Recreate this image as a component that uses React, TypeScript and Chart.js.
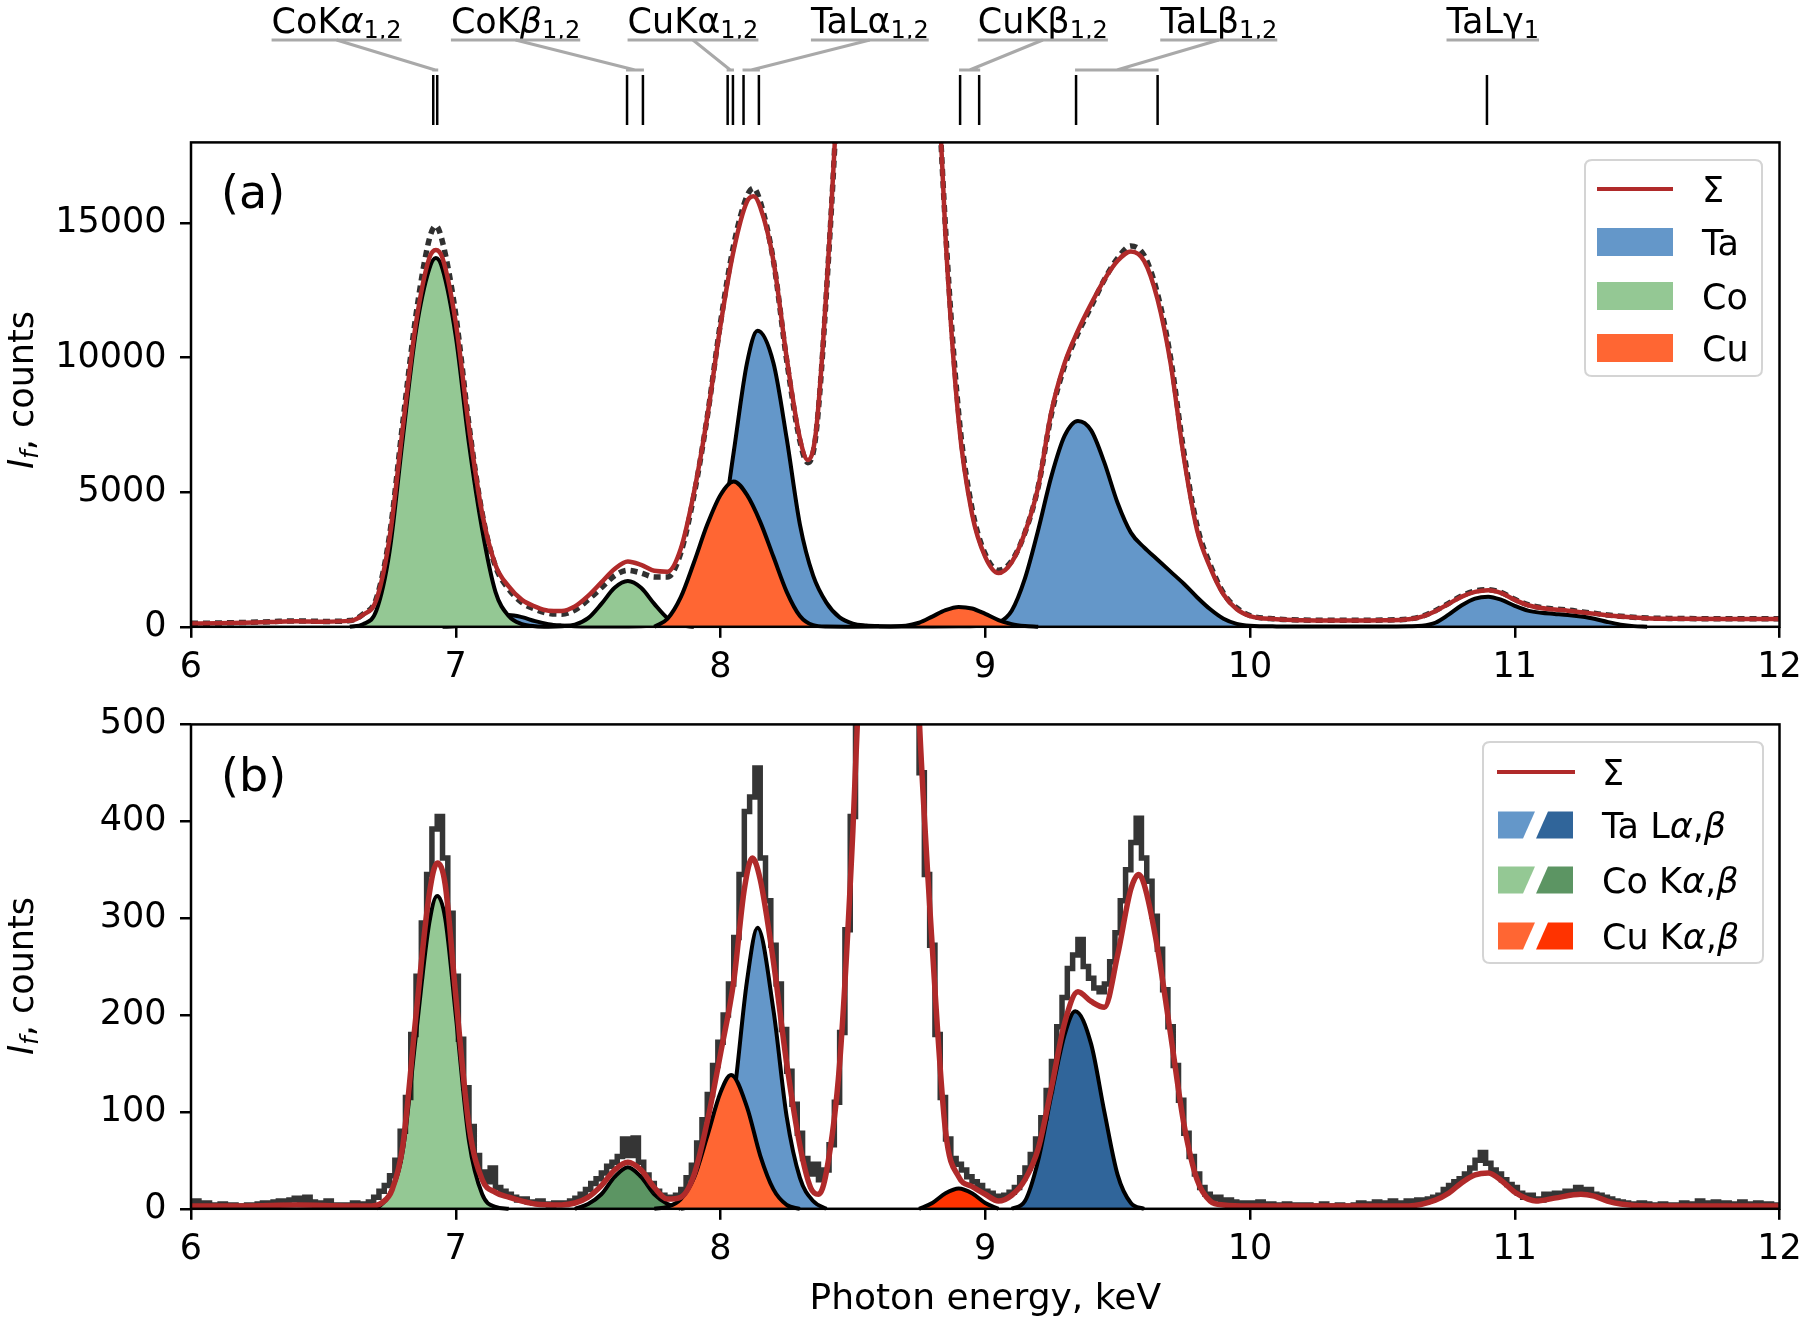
import React, { useEffect, useRef } from "react";
import { Chart, registerables } from "chart.js";

Chart.register(...registerables);

const FONT = '"DejaVu Sans", "Liberation Sans", sans-serif';
const FS = 35;

// ---------- axes ----------
const xTicks = [6, 7, 8, 9, 10, 11, 12];
const yTicksA = [0, 5000, 10000, 15000];
const yTicksB = [0, 100, 200, 300, 400, 500];
const xMin = 6;
const xMax = 12;
const yMaxA = 18000;
const yMaxB = 500;

// ---------- colours ----------
const SIGMA = "#b02a2a";
const TA_LIGHT = "#6497c9";
const TA_DARK = "#30659a";
const CO_LIGHT = "#94c894";
const CO_DARK = "#5c9563";
const CU_LIGHT = "#ff6633";
const CU_DARK = "#ff3300";

// ---------- top line markers ----------
type Part = { t: string; i?: boolean; s?: boolean };
const markerNames: Part[][] = [
  [{ t: "CoK" }, { t: "α", i: true }, { t: "1,2", s: true }],
  [{ t: "CoK" }, { t: "β", i: true }, { t: "1,2", s: true }],
  [{ t: "CuKα" }, { t: "1,2", s: true }],
  [{ t: "TaLα" }, { t: "1,2", s: true }],
  [{ t: "CuKβ" }, { t: "1,2", s: true }],
  [{ t: "TaLβ" }, { t: "1,2", s: true }],
  [{ t: "TaLγ" }, { t: "1", s: true }],
];
const markerLabelE = [6.55, 7.226, 7.896, 8.564, 9.2175, 9.882, 10.917];
const markerLinesE = [
  [6.915, 6.93],
  [7.647, 7.707],
  [8.027, 8.047],
  [8.087, 8.145],
  [8.905, 8.977],
  [9.343, 9.651],
  [10.895],
];

// ---------- panel (a) ----------
const sumA: [number, number][] = [
  [6.0, 120], [6.1, 130], [6.2, 150], [6.3, 180], [6.4, 210], [6.5, 190], [6.6, 220], [6.65, 450],
  [6.7, 1000], [6.75, 3300], [6.8, 7400], [6.85, 11300], [6.9, 13700], [6.925, 14000], [6.95, 13700],
  [7.0, 11300], [7.05, 7400], [7.1, 4200], [7.15, 2300], [7.2, 1500], [7.25, 1000], [7.3, 750],
  [7.35, 600], [7.4, 590], [7.45, 760], [7.5, 1150], [7.55, 1650], [7.6, 2150], [7.65, 2430],
  [7.7, 2300], [7.75, 2080], [7.8, 2050], [7.85, 2900], [7.9, 5000], [7.95, 7800], [8.0, 11200],
  [8.05, 14000], [8.1, 15800], [8.125, 16000], [8.15, 15600], [8.2, 13600], [8.25, 10000],
  [8.3, 7000], [8.33, 6200], [8.36, 7200], [8.4, 12500], [8.45, 22000], [8.5, 38000], [8.55, 52000],
  [8.6, 60000], [8.65, 60000], [8.7, 52000], [8.75, 38000], [8.8, 25000], [8.85, 14500], [8.9, 7600],
  [8.95, 4200], [9.0, 2600], [9.05, 2000], [9.1, 2400], [9.15, 3500], [9.2, 5200], [9.25, 8000],
  [9.3, 9800], [9.35, 11000], [9.4, 12000], [9.45, 12900], [9.5, 13600], [9.55, 13950], [9.6, 13600],
  [9.65, 12200], [9.7, 9800], [9.75, 6300], [9.8, 3600], [9.85, 2200], [9.9, 1200], [9.95, 650],
  [10.0, 400], [10.1, 280], [10.2, 240], [10.3, 230], [10.4, 230], [10.5, 240], [10.6, 280],
  [10.65, 380], [10.7, 580], [10.75, 850], [10.8, 1120], [10.85, 1300], [10.9, 1360], [10.95, 1250],
  [11.0, 1000], [11.05, 800], [11.1, 700], [11.15, 640], [11.2, 600], [11.25, 540], [11.3, 490],
  [11.35, 430], [11.4, 380], [11.5, 320], [11.6, 300], [11.8, 290], [12.0, 290],
];

const dataA: [number, number][] = [
  [6.0, 130], [6.1, 140], [6.2, 160], [6.3, 190], [6.4, 220], [6.5, 200], [6.6, 230], [6.65, 470],
  [6.7, 1050], [6.75, 3400], [6.8, 7600], [6.85, 11600], [6.9, 14400], [6.925, 14900], [6.95, 14300],
  [7.0, 11600], [7.05, 7500], [7.1, 4200], [7.15, 2250], [7.2, 1400], [7.25, 900], [7.3, 650],
  [7.35, 500], [7.4, 470], [7.45, 620], [7.5, 1000], [7.55, 1450], [7.6, 1900], [7.65, 2100],
  [7.7, 2000], [7.75, 1850], [7.8, 1850], [7.85, 2750], [7.9, 4900], [7.95, 7800], [8.0, 11300],
  [8.05, 14200], [8.1, 16000], [8.125, 16300], [8.15, 15800], [8.2, 13600], [8.25, 9900],
  [8.3, 6900], [8.33, 6100], [8.36, 7100], [8.4, 12400], [8.45, 22000], [8.5, 38000], [8.55, 52000],
  [8.6, 60000], [8.65, 60000], [8.7, 52000], [8.75, 38000], [8.8, 25200], [8.85, 14800], [8.9, 7900],
  [8.95, 4400], [9.0, 2700], [9.05, 2100], [9.1, 2450], [9.15, 3500], [9.2, 5200], [9.25, 7900],
  [9.3, 9700], [9.35, 10900], [9.4, 11900], [9.45, 12900], [9.5, 13700], [9.55, 14150], [9.6, 13800],
  [9.65, 12400], [9.7, 10000], [9.75, 6500], [9.8, 3750], [9.85, 2300], [9.9, 1250], [9.95, 700],
  [10.0, 420], [10.1, 290], [10.2, 250], [10.3, 240], [10.4, 240], [10.5, 250], [10.6, 290],
  [10.65, 390], [10.7, 600], [10.75, 870], [10.8, 1150], [10.85, 1330], [10.9, 1380], [10.95, 1270],
  [11.0, 1020], [11.05, 820], [11.1, 720], [11.15, 660], [11.2, 620], [11.25, 560], [11.3, 500],
  [11.35, 440], [11.4, 390], [11.5, 330], [11.6, 310], [11.8, 300], [12.0, 300],
];

const taA: [number, number][] = [
  [6.95, 0], [7.0, 20], [7.05, 60], [7.1, 180], [7.15, 360], [7.2, 440], [7.25, 360], [7.3, 210],
  [7.35, 100], [7.4, 50], [7.45, 25], [7.5, 15], [7.6, 15], [7.7, 25], [7.8, 60], [7.85, 120],
  [7.9, 400], [7.95, 1200], [8.0, 3200], [8.05, 6500], [8.1, 9800], [8.14, 11000], [8.2, 9800],
  [8.25, 7000], [8.3, 3800], [8.35, 1900], [8.4, 900], [8.45, 350], [8.5, 120], [8.55, 50],
  [8.6, 25], [8.7, 15], [8.8, 15], [8.9, 20], [9.0, 50], [9.05, 150], [9.1, 600], [9.15, 1800],
  [9.2, 3600], [9.25, 5600], [9.3, 7100], [9.35, 7650], [9.4, 7300], [9.45, 6100], [9.5, 4600],
  [9.55, 3500], [9.6, 2950], [9.65, 2500], [9.7, 2050], [9.75, 1600], [9.8, 1100], [9.85, 650],
  [9.9, 300], [9.95, 110], [10.0, 40], [10.1, 15], [10.3, 10], [10.5, 10], [10.6, 20], [10.65, 40],
  [10.7, 150], [10.75, 450], [10.8, 800], [10.85, 1050], [10.9, 1120], [10.95, 1000], [11.0, 780],
  [11.05, 600], [11.1, 520], [11.15, 480], [11.2, 440], [11.25, 380], [11.3, 300], [11.35, 180],
  [11.4, 80], [11.45, 25], [11.5, 5],
];

const coA: [number, number][] = [
  [6.6, 0], [6.65, 100], [6.7, 600], [6.75, 2800], [6.8, 7000], [6.85, 11000], [6.9, 13300],
  [6.925, 13700], [6.95, 13300], [7.0, 10800], [7.05, 6800], [7.1, 3600], [7.15, 1300], [7.2, 400],
  [7.25, 100], [7.3, 20], [7.35, 5], [7.4, 20], [7.45, 80], [7.5, 320], [7.55, 850], [7.6, 1450],
  [7.65, 1700], [7.7, 1450], [7.75, 850], [7.8, 320], [7.85, 60], [7.9, 0],
];

const cuA: [number, number][] = [
  [7.75, 0], [7.8, 300], [7.85, 1100], [7.9, 2400], [7.95, 3800], [8.0, 4900], [8.05, 5400],
  [8.1, 4900], [8.15, 3900], [8.2, 2600], [8.25, 1300], [8.3, 400], [8.35, 60], [8.4, 10], [8.5, 5],
  [8.6, 10], [8.7, 40], [8.75, 150], [8.8, 380], [8.85, 620], [8.9, 740], [8.95, 680], [9.0, 480],
  [9.05, 250], [9.1, 100], [9.15, 30], [9.2, 0],
];

// ---------- panel (b) ----------
const sumB: [number, number][] = [
  [6.0, 3], [6.2, 3], [6.4, 4], [6.6, 3], [6.68, 3], [6.72, 6], [6.76, 20], [6.8, 65], [6.85, 200],
  [6.9, 325], [6.93, 357], [6.96, 335], [7.0, 220], [7.05, 85], [7.1, 30], [7.15, 17], [7.2, 12],
  [7.25, 8], [7.3, 5], [7.4, 4], [7.45, 6], [7.5, 12], [7.55, 24], [7.6, 40], [7.65, 48], [7.7, 40],
  [7.75, 22], [7.8, 10], [7.85, 12], [7.9, 35], [7.95, 90], [8.0, 160], [8.05, 235], [8.09, 330],
  [8.12, 362], [8.15, 340], [8.2, 255], [8.25, 150], [8.3, 65], [8.34, 22], [8.37, 15], [8.4, 38],
  [8.45, 150], [8.5, 390], [8.55, 720], [8.6, 1000], [8.65, 1050], [8.7, 860], [8.75, 510],
  [8.8, 270], [8.85, 80], [8.9, 33], [8.95, 23], [9.0, 15], [9.05, 8], [9.1, 14], [9.15, 30],
  [9.2, 62], [9.25, 125], [9.3, 192], [9.35, 224], [9.4, 214], [9.45, 208], [9.5, 262], [9.55, 330],
  [9.58, 345], [9.6, 335], [9.65, 270], [9.7, 180], [9.75, 88], [9.8, 30], [9.85, 8], [9.9, 4],
  [10.0, 3], [10.6, 3], [10.7, 9], [10.75, 16], [10.8, 27], [10.85, 35], [10.9, 37], [10.95, 29],
  [11.0, 17], [11.05, 10], [11.08, 8], [11.15, 11], [11.25, 15], [11.3, 13], [11.35, 8], [11.4, 5],
  [11.5, 3], [12.0, 3],
];

// measured histogram, bins of 0.02 keV starting at 6.00 keV
const histStartB = 6.0;
const histStepB = 0.02;
const histB = [
  5, 8, 4, 6, 3, 4, 5, 2, 4, 3,
  3, 4, 2, 5, 6, 4, 7, 8, 6, 9,
  11, 8, 12, 7, 6, 5, 8, 4, 3, 4,
  4, 6, 3, 5, 7, 12, 18, 24, 34, 50,
  80, 115, 180, 240, 295, 345, 392, 405, 362, 305,
  240, 175, 125, 85, 55, 38, 28, 42, 22, 18,
  15, 12, 9, 10, 7, 6, 8, 5, 4, 6,
  5, 6, 8, 11, 15, 20, 26, 31, 37, 44,
  48, 54, 72, 55, 73, 48, 35, 26, 18, 14,
  12, 11, 14, 20, 32, 45, 68, 92, 118, 148,
  172, 200, 232, 280, 345, 410, 425, 455, 362, 318,
  272, 232, 185, 142, 108, 78, 52, 36, 46, 30,
  40, 66, 110, 182, 288, 405, 525, 665, 815, 965,
  1010, 1060, 1055, 1005, 950, 860, 725, 585, 450, 345,
  272, 180, 115, 72, 52, 46, 40, 33, 28, 24,
  18, 16, 13, 12, 14, 17, 22, 32, 42, 56,
  72, 94, 122, 152, 188, 218, 248, 262, 278, 250,
  238, 228, 224, 232, 255, 285, 318, 350, 378, 403,
  362, 338, 302, 268, 226, 188, 148, 112, 78, 54,
  36, 22, 15, 10, 12, 8, 9, 7, 6, 5,
  6, 5, 7, 4, 5, 3, 4, 5, 3, 4,
  3, 4, 2, 3, 5, 3, 2, 4, 3, 2,
  4, 6, 3, 5, 7, 4, 6, 8, 5, 6,
  8, 6, 9, 7, 10, 12, 14, 20, 24, 28,
  31, 36, 42, 50, 58, 47, 40, 36, 30, 25,
  22, 16, 12, 14, 10, 9, 15, 12, 16, 14,
  18, 17, 22, 16, 20, 15, 14, 12, 10, 8,
  7, 6, 5, 4, 6, 5, 4, 3, 5, 4,
  3, 4, 6, 5, 4, 8, 6, 5, 7, 4,
  6, 5, 4, 7, 5, 4, 6, 3, 5, 4, 3,
];

const coKaB: [number, number][] = [
  [6.7, 0], [6.75, 15], [6.8, 60], [6.85, 180], [6.9, 295], [6.93, 323], [6.96, 300], [7.0, 200],
  [7.05, 70], [7.1, 15], [7.15, 2], [7.2, 0],
];
const coKbB: [number, number][] = [
  [7.45, 0], [7.5, 5], [7.55, 15], [7.6, 33], [7.65, 43], [7.7, 33], [7.75, 15], [7.8, 5], [7.85, 0],
];
const cuKaB: [number, number][] = [
  [7.75, 0], [7.8, 2], [7.85, 10], [7.9, 32], [7.95, 75], [8.0, 120], [8.04, 138], [8.1, 105],
  [8.15, 55], [8.2, 20], [8.25, 4], [8.3, 0],
];
const taLaB: [number, number][] = [
  [7.85, 0], [7.9, 3], [7.95, 12], [8.0, 45], [8.05, 115], [8.1, 235], [8.14, 290], [8.2, 205],
  [8.25, 95], [8.3, 32], [8.35, 8], [8.4, 0],
];
const cuKbB: [number, number][] = [
  [8.75, 0], [8.8, 6], [8.85, 16], [8.9, 21], [8.95, 16], [9.0, 6], [9.05, 0],
];
const taLbB: [number, number][] = [
  [9.1, 0], [9.15, 8], [9.2, 50], [9.25, 118], [9.3, 180], [9.34, 204], [9.4, 170], [9.45, 100],
  [9.5, 35], [9.55, 6], [9.6, 0],
];

// ---------- legends / labels ----------
const legendA = [
  { label: "Σ", color: SIGMA, line: true },
  { label: "Ta", color: TA_LIGHT },
  { label: "Co", color: CO_LIGHT },
  { label: "Cu", color: CU_LIGHT },
];
const legendB: { parts: Part[]; colors: string[]; line?: boolean }[] = [
  { parts: [{ t: "Σ" }], colors: [SIGMA], line: true },
  { parts: [{ t: "Ta L" }, { t: "α", i: true }, { t: "," }, { t: "β", i: true }], colors: [TA_LIGHT, TA_DARK] },
  { parts: [{ t: "Co K" }, { t: "α", i: true }, { t: "," }, { t: "β", i: true }], colors: [CO_LIGHT, CO_DARK] },
  { parts: [{ t: "Cu K" }, { t: "α", i: true }, { t: "," }, { t: "β", i: true }], colors: [CU_LIGHT, CU_DARK] },
];
const yTitle: Part[] = [{ t: "I", i: true }, { t: "f", i: true, s: true }, { t: ", counts" }];
const xTitle = "Photon energy, keV";

// ---------- helpers ----------
const toXY = (arr: [number, number][]) => arr.map(([x, y]) => ({ x, y }));

function fontFor(p: Part, size: number) {
  const s = p.s ? Math.round(size * 0.68) : size;
  return `${p.i ? "italic " : ""}${s}px ${FONT}`;
}
function measureRich(ctx: CanvasRenderingContext2D, parts: Part[], size: number) {
  let w = 0;
  for (const p of parts) {
    ctx.font = fontFor(p, size);
    w += ctx.measureText(p.t).width;
  }
  return w;
}
function drawRich(ctx: CanvasRenderingContext2D, parts: Part[], x: number, y: number, align: string, size: number) {
  const w = measureRich(ctx, parts, size);
  let cx = align === "center" ? x - w / 2 : align === "right" ? x - w : x;
  ctx.textAlign = "left";
  ctx.textBaseline = "alphabetic";
  for (const p of parts) {
    ctx.font = fontFor(p, size);
    ctx.fillText(p.t, cx, y + (p.s ? size * 0.13 : 0));
    cx += ctx.measureText(p.t).width;
  }
  return w;
}
function roundBox(ctx: CanvasRenderingContext2D, x0: number, y0: number, x1: number, y1: number) {
  const r = 7;
  ctx.beginPath();
  ctx.moveTo(x0 + r, y0);
  ctx.lineTo(x1 - r, y0);
  ctx.quadraticCurveTo(x1, y0, x1, y0 + r);
  ctx.lineTo(x1, y1 - r);
  ctx.quadraticCurveTo(x1, y1, x1 - r, y1);
  ctx.lineTo(x0 + r, y1);
  ctx.quadraticCurveTo(x0, y1, x0, y1 - r);
  ctx.lineTo(x0, y0 + r);
  ctx.quadraticCurveTo(x0, y0, x0 + r, y0);
  ctx.closePath();
  ctx.fillStyle = "rgba(255,255,255,0.85)";
  ctx.fill();
  ctx.strokeStyle = "#d4d4d4";
  ctx.lineWidth = 2;
  ctx.stroke();
}
function drawFrame(chart: any) {
  const { ctx, chartArea: a } = chart;
  ctx.save();
  ctx.strokeStyle = "#000";
  ctx.lineWidth = 2.5;
  ctx.strokeRect(a.left, a.top, a.right - a.left, a.bottom - a.top);
  ctx.restore();
}
function drawYTitle(ctx: CanvasRenderingContext2D, cy: number) {
  ctx.save();
  ctx.translate(33, cy);
  ctx.rotate(-Math.PI / 2);
  ctx.fillStyle = "#000";
  drawRich(ctx, yTitle, 0, 0, "center", FS);
  ctx.restore();
}
function noPad(s: any) {
  s.paddingLeft = 0;
  s.paddingRight = 0;
  s.paddingTop = 0;
  s.paddingBottom = 0;
}

function scaleOpts(yMax: number, yTicks: number[]) {
  const grid = {
    drawOnChartArea: false,
    drawTicks: true,
    tickLength: 11,
    tickWidth: 2.5,
    tickColor: "#000",
    color: "#000",
    lineWidth: 2.5,
  };
  const tickFont = { family: FONT, size: FS };
  return {
    x: {
      type: "linear",
      min: xMin,
      max: xMax,
      afterBuildTicks: (s: any) => {
        s.ticks = xTicks.map((v) => ({ value: v }));
      },
      afterFit: (s: any) => {
        s.height = 60;
        noPad(s);
      },
      ticks: {
        font: tickFont,
        color: "#000",
        padding: 9,
        maxRotation: 0,
        autoSkip: false,
        callback: (v: any) => String(v),
      },
      grid,
      border: { display: false },
    },
    y: {
      type: "linear",
      min: 0,
      max: yMax,
      afterBuildTicks: (s: any) => {
        s.ticks = yTicks.map((v) => ({ value: v }));
      },
      afterFit: (s: any) => {
        s.width = 191;
        noPad(s);
      },
      ticks: {
        font: tickFont,
        color: "#000",
        padding: 13.5,
        autoSkip: false,
        callback: (v: any) => String(v),
      },
      grid,
      border: { display: false },
    },
  };
}

const CLIP = { left: 0, top: 0, right: 0, bottom: 4 };

function fillSet(data: [number, number][], color: string, order: number) {
  return {
    data: toXY(data),
    borderColor: "#000",
    borderWidth: 4,
    backgroundColor: color,
    fill: "origin",
    pointRadius: 0,
    cubicInterpolationMode: "monotone",
    order,
    clip: CLIP,
  };
}

// ---------- plugins ----------
const decorA = {
  id: "decorA",
  afterDraw(chart: any) {
    const { ctx } = chart;
    const xs = chart.scales.x;
    drawFrame(chart);
    ctx.save();
    // panel label
    ctx.fillStyle = "#000";
    ctx.font = `46px ${FONT}`;
    ctx.textAlign = "left";
    ctx.textBaseline = "alphabetic";
    ctx.fillText("(a)", 221, 208);
    drawYTitle(ctx, 390);
    // legend
    roundBox(ctx, 1585, 160, 1762, 376);
    const rowsY = [189, 242, 296, 348];
    legendA.forEach((e, k) => {
      const cy = rowsY[k];
      if (e.line) {
        ctx.strokeStyle = e.color;
        ctx.lineWidth = 4;
        ctx.beginPath();
        ctx.moveTo(1597, cy);
        ctx.lineTo(1673, cy);
        ctx.stroke();
      } else {
        ctx.fillStyle = e.color;
        ctx.fillRect(1597, cy - 14, 76, 28);
      }
      ctx.fillStyle = "#000";
      drawRich(ctx, [{ t: e.label }], 1702, cy + 12.7, "left", FS);
    });
    // top line markers
    markerNames.forEach((parts, g) => {
      const cx = xs.getPixelForValue(markerLabelE[g]);
      ctx.fillStyle = "#000";
      const w = drawRich(ctx, parts, cx, 33, "center", 35);
      ctx.strokeStyle = "#a9a9a9";
      ctx.lineWidth = 3;
      ctx.beginPath();
      ctx.moveTo(cx - w / 2, 40);
      ctx.lineTo(cx + w / 2, 40);
      ctx.stroke();
      const px = markerLinesE[g].map((e) => xs.getPixelForValue(e));
      const lo = Math.min(...px);
      const hi = Math.max(...px);
      const mid = (lo + hi) / 2;
      if (Math.abs(mid - cx) > 8) {
        ctx.beginPath();
        ctx.moveTo(lo - 1, 70);
        ctx.lineTo(hi + 1, 70);
        ctx.moveTo(cx, 40);
        ctx.lineTo(mid, 70);
        ctx.stroke();
      }
      ctx.strokeStyle = "#000";
      ctx.lineWidth = 2.5;
      px.forEach((p) => {
        ctx.beginPath();
        ctx.moveTo(p, 75);
        ctx.lineTo(p, 125);
        ctx.stroke();
      });
    });
    ctx.restore();
  },
};

const decorB = {
  id: "decorB",
  afterDraw(chart: any) {
    const { ctx, chartArea } = chart;
    drawFrame(chart);
    ctx.save();
    ctx.fillStyle = "#000";
    ctx.font = `46px ${FONT}`;
    ctx.textAlign = "left";
    ctx.textBaseline = "alphabetic";
    ctx.fillText("(b)", 221, 101);
    drawYTitle(ctx, 286);
    ctx.fillStyle = "#000";
    ctx.font = `36px ${FONT}`;
    ctx.textAlign = "center";
    ctx.fillText(xTitle, (chartArea.left + chartArea.right) / 2, 619);
    // legend
    roundBox(ctx, 1483, 52, 1763, 273);
    const rowsY = [82, 135, 190, 246];
    const x0 = 1498;
    legendB.forEach((e, k) => {
      const cy = rowsY[k];
      const top = cy - 13.5;
      const bot = cy + 13.5;
      if (e.line) {
        ctx.strokeStyle = e.colors[0];
        ctx.lineWidth = 4;
        ctx.beginPath();
        ctx.moveTo(x0 - 1, cy);
        ctx.lineTo(x0 + 77, cy);
        ctx.stroke();
      } else {
        ctx.fillStyle = e.colors[0];
        ctx.beginPath();
        ctx.moveTo(x0, top);
        ctx.lineTo(x0 + 37, top);
        ctx.lineTo(x0 + 25, bot);
        ctx.lineTo(x0, bot);
        ctx.closePath();
        ctx.fill();
        ctx.fillStyle = e.colors[1];
        ctx.beginPath();
        ctx.moveTo(x0 + 50, top);
        ctx.lineTo(x0 + 75, top);
        ctx.lineTo(x0 + 75, bot);
        ctx.lineTo(x0 + 38, bot);
        ctx.closePath();
        ctx.fill();
      }
      ctx.fillStyle = "#000";
      drawRich(ctx, e.parts, 1602, cy + 12.7, "left", FS);
    });
    ctx.restore();
  },
};

export default function App() {
  const refA = useRef<HTMLCanvasElement>(null);
  const refB = useRef<HTMLCanvasElement>(null);

  useEffect(() => {
    const common = {
      responsive: false,
      animation: false,
      events: [],
      plugins: { legend: { display: false }, tooltip: { enabled: false } },
    };

    const chartA = new Chart(refA.current as HTMLCanvasElement, {
      type: "line",
      data: {
        datasets: [
          {
            data: toXY(sumA),
            borderColor: SIGMA,
            borderWidth: 4.5,
            pointRadius: 0,
            fill: false,
            cubicInterpolationMode: "monotone",
            order: 0,
            clip: CLIP,
          },
          {
            data: toXY(dataA),
            borderColor: "rgba(25,25,25,0.9)",
            borderWidth: 5.5,
            borderDash: [7, 5],
            pointRadius: 0,
            fill: false,
            cubicInterpolationMode: "monotone",
            order: 1,
            clip: CLIP,
          },
          fillSet(cuA, CU_LIGHT, 2),
          fillSet(coA, CO_LIGHT, 3),
          fillSet(taA, TA_LIGHT, 4),
        ],
      } as any,
      options: {
        ...common,
        layout: { autoPadding: false, padding: { left: 0, right: 20.5, top: 142.4, bottom: 3.2 } },
        scales: scaleOpts(yMaxA, yTicksA),
      } as any,
      plugins: [decorA],
    });

    const chartB = new Chart(refB.current as HTMLCanvasElement, {
      type: "line",
      data: {
        datasets: [
          {
            data: toXY(sumB),
            borderColor: SIGMA,
            borderWidth: 5.5,
            pointRadius: 0,
            fill: false,
            cubicInterpolationMode: "monotone",
            order: 0,
            clip: CLIP,
          },
          {
            data: histB.map((v, i) => ({ x: histStartB + i * histStepB, y: v })),
            borderColor: "rgba(8,8,8,0.82)",
            borderWidth: 5.5,
            stepped: "middle",
            pointRadius: 0,
            fill: false,
            order: 1,
            clip: CLIP,
          },
          fillSet(cuKbB, CU_DARK, 2),
          fillSet(taLbB, TA_DARK, 3),
          fillSet(cuKaB, CU_LIGHT, 4),
          fillSet(taLaB, TA_LIGHT, 5),
          fillSet(coKbB, CO_DARK, 6),
          fillSet(coKaB, CO_LIGHT, 7),
        ],
      } as any,
      options: {
        ...common,
        layout: { autoPadding: false, padding: { left: 0, right: 20.5, top: 34.4, bottom: 50.2 } },
        scales: scaleOpts(yMaxB, yTicksB),
      } as any,
      plugins: [decorB],
    });

    return () => {
      chartA.destroy();
      chartB.destroy();
    };
  }, []);

  return (
    <div style={{ position: "absolute", left: 0, top: 0, width: 1800, height: 1319, background: "#fff" }}>
      <canvas ref={refA} width={1800} height={690} style={{ position: "absolute", left: 0, top: 0 }} />
      <canvas ref={refB} width={1800} height={629} style={{ position: "absolute", left: 0, top: 690 }} />
    </div>
  );
}
